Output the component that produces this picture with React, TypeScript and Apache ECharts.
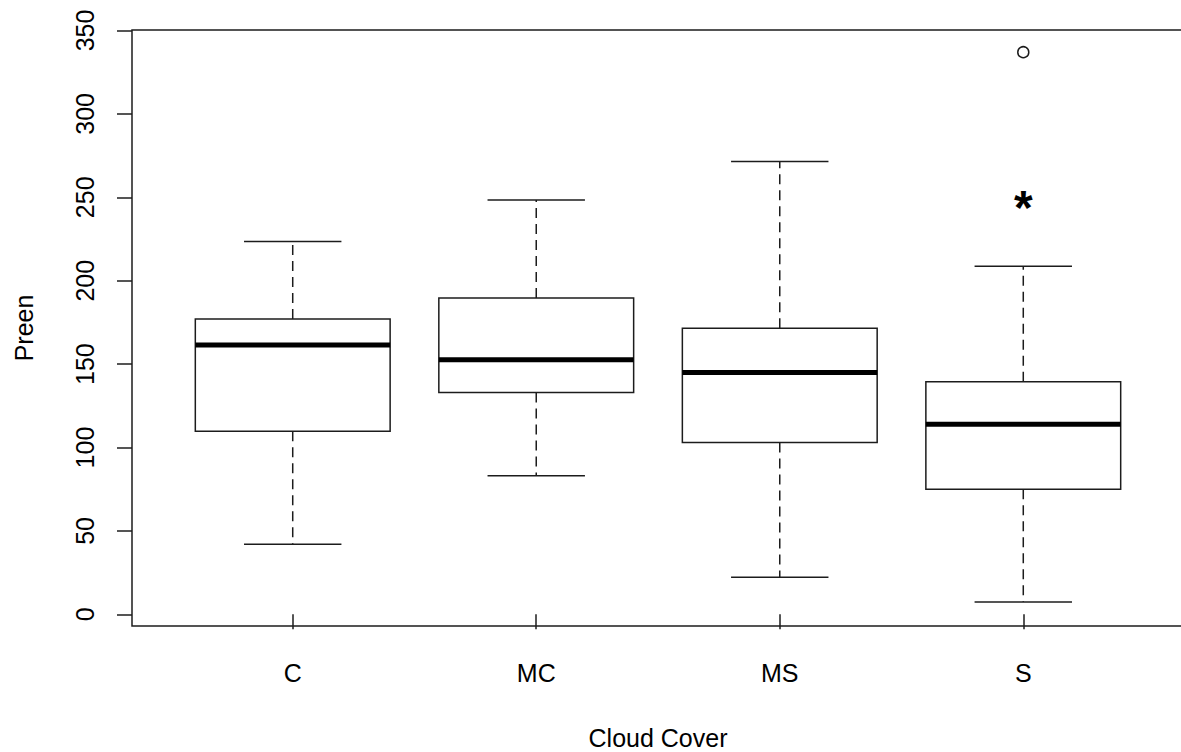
import React, { useEffect, useRef } from "react";
import * as echarts from "echarts";

const categories = ["C", "MC", "MS", "S"];
const lowerWhisker = [42, 83, 22.3, 7.4];
const q1 = [109.8, 133, 103, 75];
const median = [161.5, 152.6, 145, 113.9];
const q3 = [177, 189.6, 171.5, 139.5];
const upperWhisker = [223.5, 248.4, 271.4, 208.6];

const outlierCats = ["S"];
const outlierValues = [337];

const markCats = ["S"];
const markValues = [248.4];
const markTexts = ["*"];

const yTicks = [0, 50, 100, 150, 200, 250, 300, 350];
const xTicks = [1, 2, 3, 4];

const FONT = "'Liberation Sans', Arial, sans-serif";
const INK = "#1c1c1c";

export default function App() {
  const ref = useRef<HTMLDivElement>(null);
  useEffect(() => {
    document.body.style.margin = "0";
    const chart = echarts.init(ref.current!, null, { renderer: "svg" });
    const boxData = categories.map((c, i) => [
      i + 1,
      lowerWhisker[i],
      q1[i],
      median[i],
      q3[i],
      upperWhisker[i],
    ]);
    const outlierData = outlierCats.map((c, i) => [categories.indexOf(c) + 1, outlierValues[i]]);
    const markData = markCats.map((c, i) => [categories.indexOf(c) + 1, markValues[i]]);

    const option: any = {
      animation: false,
      backgroundColor: "#fff",
      grid: {
        left: 132,
        top: 30,
        right: -3,
        bottom: 126,
        outerBoundsMode: "none",
        containLabel: false,
        show: true,
        borderColor: INK,
        borderWidth: 1.5,
        backgroundColor: "transparent",
      },
      xAxis: {
        type: "value",
        min: 0.34,
        max: 4.66,
        name: "Cloud Cover",
        nameLocation: "middle",
        nameGap: 99,
        nameTextStyle: { fontFamily: FONT, fontSize: 25, color: "#000", lineHeight: 25 },
        axisLine: { show: false },
        splitLine: { show: false },
        axisTick: {
          show: true,
          inside: false,
          length: 15,
          customValues: xTicks,
          lineStyle: { color: INK, width: 1.5 },
        },
        axisLabel: {
          customValues: xTicks,
          margin: 34,
          fontFamily: FONT,
          fontSize: 25,
          lineHeight: 25,
          color: "#000",
          formatter: (v: number) => categories[Math.round(v) - 1] ?? "",
        },
      },
      yAxis: {
        type: "value",
        min: -7,
        max: 350.3,
        name: "Preen",
        nameLocation: "middle",
        nameGap: 96,
        nameTextStyle: { fontFamily: FONT, fontSize: 25, color: "#000", lineHeight: 25 },
        axisLine: { show: false },
        splitLine: { show: false },
        axisTick: {
          show: true,
          inside: false,
          length: 15,
          customValues: yTicks,
          lineStyle: { color: INK, width: 1.5 },
        },
        axisLabel: {
          customValues: yTicks,
          rotate: 90,
          margin: 35,
          fontFamily: FONT,
          fontSize: 25,
          lineHeight: 25,
          color: "#000",
          formatter: (v: number) => String(v),
        },
      },
      series: [
        {
          type: "custom",
          data: boxData,
          encode: { x: 0, y: [1, 2, 3, 4, 5] },
          renderItem: (params: any, api: any) => {
            const x = api.value(0);
            const lo = api.coord([x, api.value(1)]);
            const b1 = api.coord([x, api.value(2)]);
            const md = api.coord([x, api.value(3)]);
            const b3 = api.coord([x, api.value(4)]);
            const hi = api.coord([x, api.value(5)]);
            const bw = api.size([0.8, 0])[0];
            const sw = bw / 2;
            const cx = md[0];
            const solid = { stroke: INK, lineWidth: 1.5, fill: "none" };
            const dashed = { stroke: INK, lineWidth: 1.5, lineDash: [10, 6], fill: "none" };
            return {
              type: "group",
              children: [
                { type: "line", shape: { x1: cx, y1: b3[1], x2: cx, y2: hi[1] }, style: dashed },
                { type: "line", shape: { x1: cx, y1: b1[1], x2: cx, y2: lo[1] }, style: dashed },
                { type: "line", shape: { x1: cx - sw / 2, y1: hi[1], x2: cx + sw / 2, y2: hi[1] }, style: solid },
                { type: "line", shape: { x1: cx - sw / 2, y1: lo[1], x2: cx + sw / 2, y2: lo[1] }, style: solid },
                {
                  type: "rect",
                  shape: { x: cx - bw / 2, y: b3[1], width: bw, height: b1[1] - b3[1] },
                  style: { stroke: INK, lineWidth: 1.5, fill: "#fff" },
                },
                {
                  type: "line",
                  shape: { x1: cx - bw / 2, y1: md[1], x2: cx + bw / 2, y2: md[1] },
                  style: { stroke: "#000", lineWidth: 5 },
                },
              ],
            };
          },
        },
        {
          type: "scatter",
          data: outlierData,
          symbol: "circle",
          symbolSize: 11,
          itemStyle: { color: "#fff", borderColor: INK, borderWidth: 1.5, opacity: 1 },
        },
        {
          type: "custom",
          data: markData,
          encode: { x: 0, y: 1 },
          renderItem: (params: any, api: any) => {
            const p = api.coord([api.value(0), api.value(1)]);
            return {
              type: "text",
              x: p[0],
              y: p[1] + 8,
              style: {
                text: markTexts[params.dataIndex],
                fontFamily: FONT,
                fontSize: 48,
                fontWeight: "bold",
                fill: "#000",
                align: "center",
                verticalAlign: "middle",
              },
            };
          },
        },
      ],
    };
    chart.setOption(option);
    return () => chart.dispose();
  }, []);
  return <div ref={ref} style={{ width: 1181, height: 752 }} />;
}
